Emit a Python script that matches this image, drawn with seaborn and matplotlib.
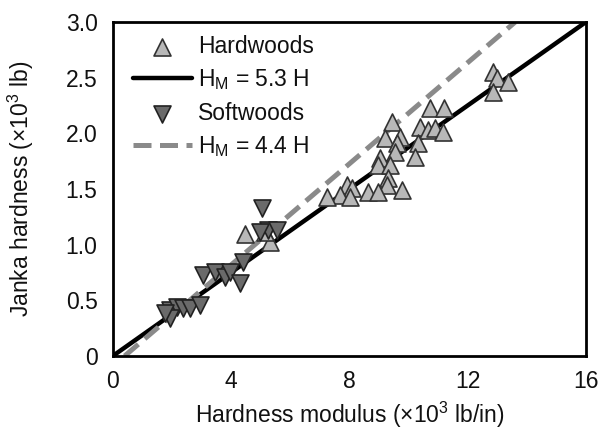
import numpy as np
import pandas as pd
import matplotlib
matplotlib.use("Agg")
import matplotlib.pyplot as plt
import seaborn as sns

# Hardwoods: hardness modulus (x10^3 lb/in), Janka hardness (x10^3 lb)
hard_x = [12.86, 13.0, 13.36, 12.86, 10.72, 11.2, 9.44, 10.39, 10.66, 10.9,
          11.16, 9.2, 9.7, 9.6, 10.3, 9.54, 9.03, 10.2, 8.97, 9.37,
          9.3, 9.27, 9.78, 8.63, 8.97, 7.9, 8.07, 7.68, 7.24, 8.0,
          4.47, 5.3, 5.14]
hard_y = [2.55, 2.50, 2.46, 2.37, 2.23, 2.23, 2.10, 2.06, 2.03, 2.05,
          2.01, 1.96, 1.97, 1.91, 1.91, 1.83, 1.78, 1.79, 1.72, 1.72,
          1.60, 1.54, 1.49, 1.47, 1.47, 1.54, 1.51, 1.45, 1.43, 1.43,
          1.10, 1.02, 1.11]

# Softwoods
soft_x = [5.04, 5.24, 5.55, 4.97, 4.4, 3.05, 3.45, 3.8, 3.96, 4.3,
          1.93, 2.17, 2.37, 2.6, 2.94, 1.93, 1.76]
soft_y = [1.33, 1.13, 1.13, 1.11, 0.84, 0.73, 0.75, 0.71, 0.75, 0.66,
          0.41, 0.44, 0.43, 0.43, 0.46, 0.34, 0.39]

# Fitted lines (endpoints in x, modulus ratio, offset)
solid_ratio = 5.33
solid_x = [0.0, 16.0]
dash_ratio = 4.4
dash_offset = 0.4
dash_x = [0.4, 13.6]

sns.set_theme(style="white")
plt.rcParams['font.family'] = ['Liberation Sans', 'DejaVu Sans']
plt.rcParams['mathtext.fontset'] = 'custom'
plt.rcParams['mathtext.rm'] = 'Liberation Sans'
plt.rcParams['mathtext.it'] = 'Liberation Sans'
plt.rcParams['text.color'] = '#111111'
plt.rcParams['axes.labelcolor'] = '#111111'

fig = plt.figure(figsize=(6, 4.32), dpi=100)
ax = fig.add_axes([0.188, 0.176, 0.789, 0.773])

hard_df = pd.DataFrame({"x": hard_x, "y": hard_y})
soft_df = pd.DataFrame({"x": soft_x, "y": soft_y})
solid_df = pd.DataFrame({"x": solid_x, "y": np.array(solid_x) / solid_ratio})
dash_df = pd.DataFrame({"x": dash_x, "y": (np.array(dash_x) - dash_offset) / dash_ratio})

sns.lineplot(data=solid_df, x="x", y="y", ax=ax, color="black", lw=3.2,
             label=r"H$_\mathrm{M}$ = 5.3 H", zorder=2)
sns.lineplot(data=dash_df, x="x", y="y", ax=ax, color="#8a8a8a", lw=3.6,
             dashes=False, label=r"H$_\mathrm{M}$ = 4.4 H", zorder=2)
ax.lines[-1].set_linestyle((0, (3.6, 1.7)))
sns.scatterplot(data=hard_df, x="x", y="y", ax=ax, marker="^", s=150,
                color="#b8b8b8", edgecolor="#333333", linewidth=1.2,
                label="Hardwoods", zorder=3)
sns.scatterplot(data=soft_df, x="x", y="y", ax=ax, marker="v", s=150,
                color="#6a6a6a", edgecolor="#222222", linewidth=1.2,
                label="Softwoods", zorder=3)

ax.set_xlim(0, 16)
ax.set_ylim(0, 3.0)
ax.set_xticks([0, 4, 8, 12, 16])
ax.set_yticks([0, 0.5, 1.0, 1.5, 2.0, 2.5, 3.0])
ax.set_yticklabels(["0", "0.5", "1.0", "1.5", "2.0", "2.5", "3.0"])
ax.tick_params(axis="both", direction="in", length=8, width=2,
               labelsize=16.5, colors="black", labelcolor="#111111")
ax.tick_params(axis="y", pad=11)
ax.tick_params(axis="x", pad=10)
for sp in ax.spines.values():
    sp.set_linewidth(2)
    sp.set_color("black")

ax.set_xlabel(r"Hardness modulus (×10$^{3}$ lb/in)", fontsize=16.5, labelpad=5)
ax.set_ylabel(r"Janka hardness (×10$^{3}$ lb)", fontsize=16.5, labelpad=21)

handles, labels = ax.get_legend_handles_labels()
order = [labels.index("Hardwoods"), labels.index(r"H$_\mathrm{M}$ = 5.3 H"),
         labels.index("Softwoods"), labels.index(r"H$_\mathrm{M}$ = 4.4 H")]
ax.legend([handles[i] for i in order], [labels[i] for i in order],
          loc="upper left", frameon=False, fontsize=16.5, handlelength=2.6,
          handletextpad=0.25, labelspacing=0.42, borderaxespad=0.15,
          bbox_to_anchor=(0.015, 1.0))

fig.savefig("out.png", dpi=100)
